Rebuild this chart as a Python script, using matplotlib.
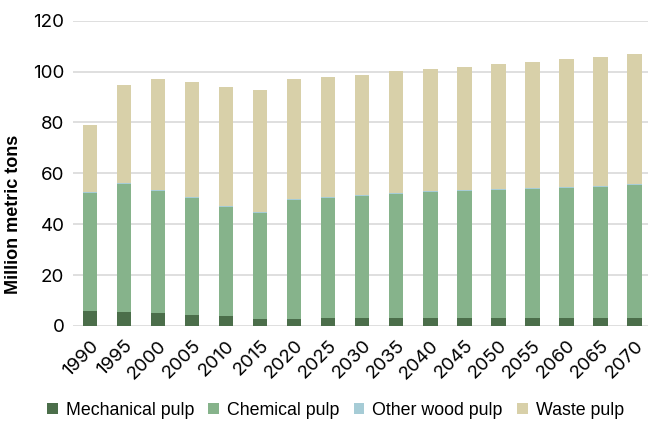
import matplotlib
matplotlib.use("Agg")
import matplotlib.pyplot as plt
import numpy as np

years = [1990, 1995, 2000, 2005, 2010, 2015, 2020, 2025, 2030, 2035,
         2040, 2045, 2050, 2055, 2060, 2065, 2070]
mechanical = [5.9, 5.6, 5.2, 4.2, 3.8, 2.9, 2.9, 3.0, 3.0, 3.0,
              3.0, 3.0, 3.0, 3.0, 3.0, 3.0, 3.0]
# top of chemical+other stack
chem_top = [52.5, 56.3, 53.5, 50.8, 47.2, 45.0, 49.8, 50.6, 51.4, 52.2,
            52.9, 53.4, 53.9, 54.3, 54.7, 55.2, 55.9]
other_wood = [0.4] * 17
totals = [79.1, 94.9, 97.1, 95.9, 94.0, 92.6, 97.0, 97.9, 98.8, 100.1,
          101.0, 101.9, 103.0, 103.9, 104.8, 105.9, 106.8]

chemical = [t - m - o for t, m, o in zip(chem_top, mechanical, other_wood)]
waste = [t - c for t, c in zip(totals, chem_top)]

labels = ["Mechanical pulp", "Chemical pulp", "Other wood pulp", "Waste pulp"]
colors = ["#4b6e4a", "#86b38b", "#a6ccd6", "#d8d0a9"]

fig = plt.figure(figsize=(6.5, 4.22), dpi=100)
ax = fig.add_axes([0.112, 0.2275, 0.885, 0.7235])

x = np.arange(len(years))
w = 0.43
bottom = np.zeros(len(years))
for vals, lab, col in zip([mechanical, chemical, other_wood, waste], labels, colors):
    ax.bar(x, vals, w, bottom=bottom, color=col, label=lab, zorder=3)
    bottom += np.array(vals)

ax.set_ylim(0, 120)
ax.set_xlim(-0.5, 16.4)
ax.set_yticks(range(0, 121, 20))
ax.grid(axis="y", color="#d9d9d9", linewidth=1.2, zorder=0)
for s in ax.spines.values():
    s.set_visible(False)
ax.tick_params(axis="y", length=0, pad=6)
ax.tick_params(axis="x", length=0, pad=8)
ax.set_xticks(x)
ax.set_xticklabels([str(y) for y in years], rotation=45, ha="right",
                   rotation_mode="anchor", family="Inter", fontsize=13.5)
for t in ax.get_yticklabels():
    t.set_family("Inter")
    t.set_fontsize(13.5)
ax.set_ylabel("Million metric tons", family="Liberation Sans", fontweight="bold",
              fontsize=13)
ax.yaxis.set_label_coords(-0.089, 0.366)

fig.legend(loc="center", bbox_to_anchor=(0.516, 0.028), ncol=4, frameon=False,
           prop={"family": "Liberation Sans", "size": 12.8}, handlelength=0.6,
           handleheight=0.6, handletextpad=0.45, columnspacing=0.8)

fig.savefig("out.png", dpi=100)
